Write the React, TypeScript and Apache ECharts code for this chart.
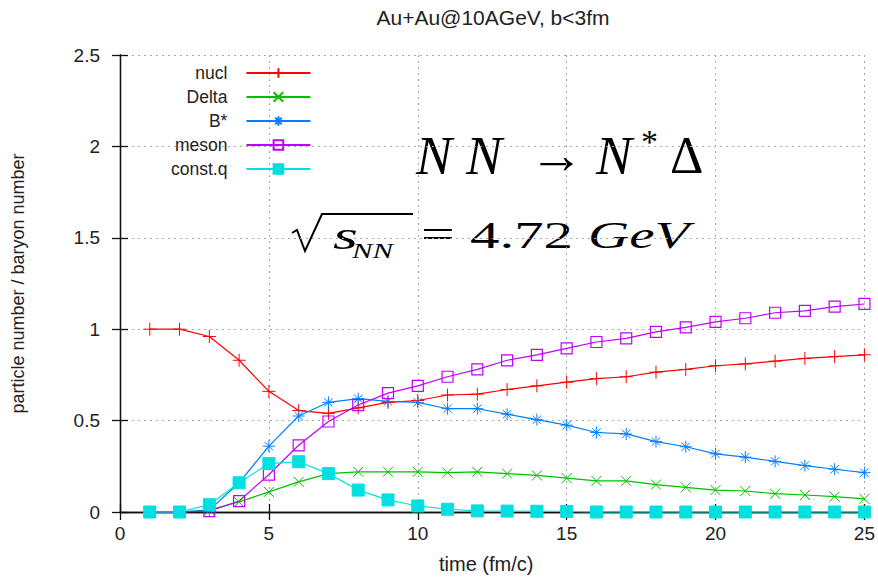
import React, { useEffect, useRef } from "react";
import * as echarts from "echarts";

// time axis (fm/c)
const times = [1, 2, 3, 4, 5, 6, 7, 8, 9, 10, 11, 12, 13, 14, 15, 16, 17, 18, 19, 20, 21, 22, 23, 24, 25];

// particle number / baryon number per species
const nucl = [1.0, 1.0, 0.96, 0.83, 0.66, 0.555, 0.54, 0.57, 0.6, 0.61, 0.64, 0.645, 0.67, 0.69, 0.71, 0.73, 0.74, 0.765, 0.78, 0.8, 0.81, 0.825, 0.84, 0.85, 0.86];
const delta = [0, 0, 0.01, 0.055, 0.11, 0.165, 0.21, 0.22, 0.22, 0.22, 0.215, 0.22, 0.21, 0.2, 0.185, 0.17, 0.17, 0.15, 0.135, 0.12, 0.115, 0.1, 0.093, 0.084, 0.072];
const bstar = [0, 0, 0.01, 0.16, 0.36, 0.525, 0.6, 0.62, 0.605, 0.6, 0.565, 0.565, 0.535, 0.505, 0.475, 0.435, 0.427, 0.385, 0.357, 0.318, 0.3, 0.277, 0.254, 0.234, 0.215];
const meson = [0, 0, 0.005, 0.06, 0.205, 0.365, 0.495, 0.585, 0.65, 0.69, 0.74, 0.78, 0.83, 0.86, 0.895, 0.93, 0.95, 0.985, 1.01, 1.04, 1.06, 1.09, 1.1, 1.123, 1.138];
const constq = [0, 0, 0.04, 0.16, 0.265, 0.275, 0.21, 0.12, 0.066, 0.033, 0.015, 0.006, 0.005, 0.004, 0.003, 0, 0, 0, 0, 0, 0, 0, 0, 0, 0];

const seriesNames = ["nucl", "Delta", "B*", "meson", "const.q"];

const PLUS = "path://M5,0L5,10M0,5L10,5";
const CROSS = "path://M0,0L10,10M0,10L10,0";
const STAR = "path://M5,0L5,10M0,5L10,5M1.5,1.5L8.5,8.5M1.5,8.5L8.5,1.5";

const SANS = "'Liberation Sans', Arial, sans-serif";
const SERIF = "'Liberation Serif', 'DejaVu Serif', serif";

function pairs(vals: number[]) {
  return times.map((t, i) => [t, vals[i]]);
}

function lineSeries(name: string, vals: number[], color: string, symbol: string, size: number, stroked: boolean) {
  return {
    name,
    type: "line",
    data: pairs(vals),
    symbol,
    symbolSize: size,
    showSymbol: true,
    lineStyle: { color, width: 1.2 },
    itemStyle: stroked
      ? { color: "rgba(0,0,0,0)", borderColor: color, borderWidth: 1.2 }
      : { color, borderColor: color, borderWidth: 1 },
    emphasis: { disabled: true },
    clip: false,
  };
}

export default function App() {
  const ref = useRef<HTMLDivElement>(null);

  useEffect(() => {
    if (!ref.current) return;
    const chart = echarts.init(ref.current, undefined, { renderer: "svg" });

    const splitLine = { show: true, lineStyle: { color: "#a8a8a8", type: [2, 4], width: 1 } };
    const axisLine = { show: true, lineStyle: { color: "#111", width: 1.3 } };
    const tick = { show: true, inside: true, length: 8, lineStyle: { color: "#111", width: 1.3 } };

    const formulaItalic = { fontFamily: SERIF, fontStyle: "italic", fill: "#000" };
    const formulaUpright = { fontFamily: SERIF, fill: "#000" };

    chart.setOption({
      animation: false,
      backgroundColor: "#fff",
      title: {
        text: "Au+Au@10AGeV, b<3fm",
        left: 488,
        top: 2,
        textAlign: "center",
        textStyle: { fontFamily: SANS, fontSize: 21, fontWeight: "normal", color: "#222" },
      },
      grid: { left: 120, right: 10, top: 55, bottom: 72, containLabel: false },
      legend: {
        data: seriesNames,
        orient: "vertical",
        align: "right",
        left: 166,
        top: 59,
        itemWidth: 64,
        itemHeight: 12,
        itemGap: 6,
        selectedMode: false,
        textStyle: { fontFamily: SANS, fontSize: 17.5, color: "#222", padding: [0, 14, 0, 0] },
      },
      xAxis: [
        {
          type: "value",
          min: 0,
          max: 25,
          interval: 5,
          position: "bottom",
          name: "time (fm/c)",
          nameLocation: "middle",
          nameGap: 42,
          nameTextStyle: { fontFamily: SANS, fontSize: 20, color: "#222", padding: [0, 12, 0, 0] },
          axisLine,
          axisTick: tick,
          axisLabel: { fontFamily: SANS, fontSize: 19, color: "#222", margin: 12 },
          splitLine,
        },
        {
          type: "value",
          min: 0,
          max: 25,
          interval: 5,
          position: "top",
          axisLine,
          axisTick: tick,
          axisLabel: { show: false },
          splitLine: { show: false },
        },
      ],
      yAxis: [
        {
          type: "value",
          min: 0,
          max: 2.5,
          interval: 0.5,
          position: "left",
          name: "particle number / baryon number",
          nameLocation: "middle",
          nameGap: 93,
          nameTextStyle: { fontFamily: SANS, fontSize: 18, color: "#222" },
          axisLine,
          axisTick: tick,
          axisLabel: { fontFamily: SANS, fontSize: 19, color: "#222", margin: 20 },
          splitLine,
        },
        {
          type: "value",
          min: 0,
          max: 2.5,
          interval: 0.5,
          position: "right",
          axisLine,
          axisTick: tick,
          axisLabel: { show: false },
          splitLine: { show: false },
        },
      ],
      series: [
        lineSeries("nucl", nucl, "#ff0000", PLUS, 13, false),
        lineSeries("Delta", delta, "#00c000", CROSS, 10, false),
        lineSeries("B*", bstar, "#0080ff", STAR, 12, false),
        lineSeries("meson", meson, "#c000ff", "rect", 11, true),
        lineSeries("const.q", constq, "#00e0e0", "rect", 12, false),
      ],
      graphic: [
        // N N -> N* Delta
        { type: "text", x: 416, y: 129, style: { ...formulaItalic, text: "N", fontSize: 54 } },
        { type: "text", x: 466, y: 129, style: { ...formulaItalic, text: "N", fontSize: 54 } },
        { type: "text", x: 529, y: 129, scaleX: 1.05, style: { ...formulaUpright, text: "→", fontSize: 52 } },
        { type: "text", x: 596, y: 129, style: { ...formulaItalic, text: "N", fontSize: 54 } },
        { type: "text", x: 641, y: 124, style: { ...formulaUpright, text: "*", fontSize: 34 } },
        { type: "text", x: 670, y: 129, style: { ...formulaUpright, text: "Δ", fontSize: 52 } },
        // sqrt(s_NN) = 4.72 GeV
        {
          type: "polyline",
          shape: { points: [[292, 233], [297, 230], [305, 251], [322, 214], [413, 214]] },
          style: { stroke: "#000", lineWidth: 2, fill: null },
        },
        { type: "text", x: 333, y: 216, scaleX: 1.6, style: { ...formulaItalic, text: "s", fontSize: 40 } },
        { type: "text", x: 352, y: 240, scaleX: 1.4, style: { ...formulaItalic, text: "NN", fontSize: 22 } },
        { type: "text", x: 421, y: 215, scaleX: 1.5, style: { ...formulaUpright, text: "=", fontSize: 40 } },
        { type: "text", x: 470, y: 216, scaleX: 1.55, style: { ...formulaUpright, text: "4.72", fontSize: 38 } },
        { type: "text", x: 588, y: 216, scaleX: 1.5, style: { ...formulaItalic, text: "GeV", fontSize: 38 } },
      ],
    });

    return () => chart.dispose();
  }, []);

  return <div ref={ref} style={{ position: "absolute", left: 0, top: 0, width: 878, height: 584 }} />;
}
